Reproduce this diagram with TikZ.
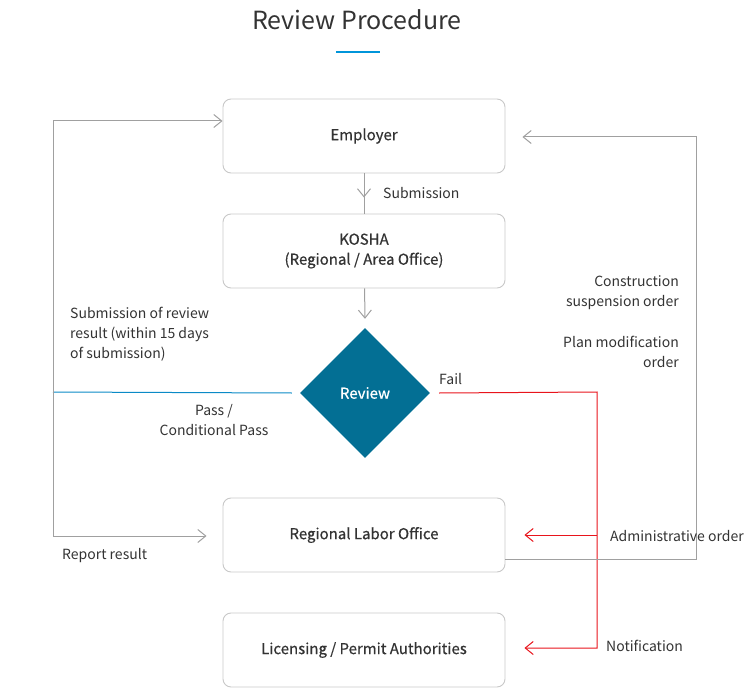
\documentclass[tikz,border=0pt]{standalone}
\usepackage{fontspec}
\setmainfont{Noto Sans CJK KR}
\newfontfamily\boxfont{Noto Sans CJK KR}[FakeBold=0.6]
\usetikzlibrary{shapes.geometric,arrows.meta,decorations.markings}
\definecolor{txt}{HTML}{333333}
\definecolor{frame}{HTML}{C8C8C8}
\definecolor{wire}{HTML}{A0A0A0}
\definecolor{reviewblue}{HTML}{036F94}
\definecolor{passblue}{HTML}{0A8AC6}
\definecolor{failred}{HTML}{E8141C}
\definecolor{bar}{HTML}{0095DA}
\begin{document}
\begin{tikzpicture}[x=1pt, y=-1pt,
        every node/.style = {text=txt, font=\fontsize{14}{20}\selectfont},
        box/.style = {draw=frame, line width=0.9pt, rounded corners=8pt, minimum width=282pt,
          minimum height=74pt, align=center, font=\fontsize{15}{20}\selectfont\boxfont},
        lbl/.style = {inner sep=0pt},
        wire/.style = {draw=wire, line width=1pt},
        redwire/.style = {draw=failred, line width=1pt},
        tip/.style = {-{Straight Barb[length=8pt,width=13pt]}},
        midtip/.style = {decoration={markings, mark=at position #1 with
          {\arrow{Straight Barb[length=8pt,width=13pt]}}}, postaction=decorate}]
      \useasboundingbox (0,0) rectangle (750,698);
      \node[lbl, font=\fontsize{25}{30}\selectfont] (title) at (357,20) {Review Procedure};
      \draw[bar, line width=2pt] (336,52) -- (380,52);
      % boxes
      \node[box] (emp) at (364,136) {Employer};
      \node[box] (kosha) at (364,251) {KOSHA\\(Regional / Area Office)};
      \node[diamond, fill=reviewblue, minimum width=130pt, minimum height=130pt,
        inner sep=0pt, text=white, font=\fontsize{15}{20}\selectfont\boxfont] (rev) at (365,393) {Review};
      \node[box] (rlo) at (364,535) {Regional Labor Office};
      \node[box] (lic) at (364,650) {Licensing / Permit Authorities};
      % turning points
      \coordinate (pass) at (53,392);
      \coordinate (fail) at (597,392);
      \coordinate (back) at (696,559);
      % connectors
      \draw[wire, midtip=0.6] (emp) -- (kosha);
      \draw[wire, tip] (kosha) -- ([yshift=9pt]rev.north);
      \draw[passblue, line width=1pt] ([xshift=-8pt]rev.west) -- (pass);
      \draw[wire, tip] (pass) |- ([yshift=15pt]emp.west);
      \draw[wire, tip] (pass) |- ([xshift=-16pt,yshift=-1pt]rlo.west);
      \draw[redwire, tip] ([xshift=9pt]rev.east) -- (fail) |- ([xshift=19pt,yshift=2pt]lic.east);
      \draw[redwire, tip] (fail |- rlo.east) -- ([xshift=19pt]rlo.east);
      \draw[wire, tip] ([yshift=-24pt]rlo.east) -- (back) |- ([xshift=17pt,yshift=-1pt]emp.east);
      % labels
      \node[lbl, anchor=west] at (383,193) {Submission};
      \node[lbl, anchor=west, align=left] at (70,334) {Submission of review\\result (within 15 days\\of submission)};
      \node[lbl, align=center] at (214,420) {Pass /\\Conditional Pass};
      \node[lbl, anchor=west] at (62,556) {Report result};
      \node[lbl, anchor=west] at (439,379) {Fail};
      \node[lbl, anchor=east, align=right] at (679,293) {Construction\\suspension order};
      \node[lbl, anchor=east, align=right] at (679,352) {Plan modification\\order};
      \node[lbl, anchor=west] at (610,536) {Administrative order};
      \node[lbl, anchor=west] at (606,646) {Notification};
    \end{tikzpicture}
\end{document}
